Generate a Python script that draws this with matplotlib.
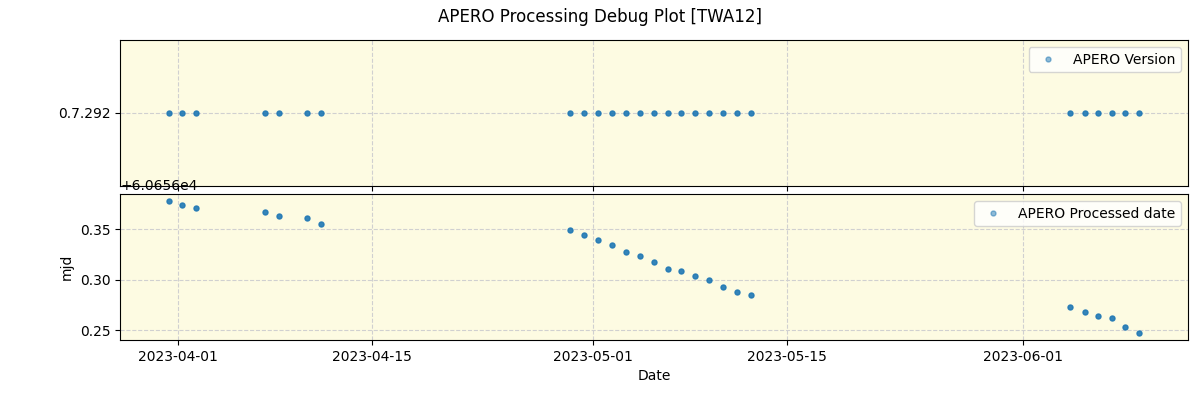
import matplotlib
matplotlib.use("Agg")
import matplotlib.pyplot as plt
import pandas as pd

obs_times = [
    "2023-03-31 09:20", "2023-04-01 08:00", "2023-04-02 08:00", "2023-04-07 07:30",
    "2023-04-08 07:40", "2023-04-10 08:10", "2023-04-11 08:25",
    "2023-04-29 08:20", "2023-04-30 08:25", "2023-05-01 08:40", "2023-05-02 08:50",
    "2023-05-03 09:05", "2023-05-04 09:20", "2023-05-05 08:40", "2023-05-06 08:50",
    "2023-05-07 08:25", "2023-05-08 08:40", "2023-05-09 08:50", "2023-05-10 09:05",
    "2023-05-11 08:50", "2023-05-12 09:05",
    "2023-06-04 09:40", "2023-06-05 10:50", "2023-06-06 09:40", "2023-06-07 09:40",
    "2023-06-08 09:40", "2023-06-09 09:40",
]
apero_version = ["0.7.292"] * len(obs_times)
processed_mjd_frac = [
    0.3784, 0.3745, 0.3715, 0.3675, 0.3636, 0.3616, 0.3556,
    0.3497, 0.3444, 0.3398, 0.3339, 0.3279, 0.3230, 0.3180, 0.3110,
    0.3084, 0.3038, 0.2995, 0.2923, 0.2874, 0.2844,
    0.2725, 0.2676, 0.2636, 0.2619, 0.2530, 0.2467,
]
mjd_base = 60656

dates = pd.to_datetime(obs_times)
processed_mjd = [mjd_base + v for v in processed_mjd_frac]

bg = "#fdfbe2"
col = "#1f77b4"

fig, (ax1, ax2) = plt.subplots(2, 1, sharex=True, figsize=(12, 4), dpi=100)
fig.subplots_adjust(left=0.1, right=0.99, top=0.9, bottom=0.15, hspace=0.055)
fig.suptitle("APERO Processing Debug Plot [TWA12]", fontsize=12, y=0.98)

ax1.plot(dates, apero_version, "o", ls="", ms=3.6, color=col, alpha=0.9, label="APERO Version")
ax2.plot(dates, processed_mjd, "o", ls="", ms=3.6, color=col, alpha=0.9, label="APERO Processed date")

for ax in (ax1, ax2):
    ax.set_facecolor(bg)
    ax.grid(True, ls="--", color="#d0d0d0", lw=0.8)
    leg = ax.legend(loc="upper right")
    for h in leg.legend_handles:
        h.set_alpha(0.5)

ax1.set_xlim(pd.Timestamp("2023-03-27 20:00"), pd.Timestamp("2023-06-12 22:00"))
ax2.set_ylabel("mjd")
ax2.set_xlabel("Date")

fig.savefig("out.png")
